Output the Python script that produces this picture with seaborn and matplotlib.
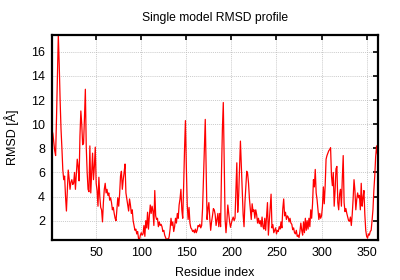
import numpy as np
import pandas as pd
import matplotlib
matplotlib.use("Agg")
import matplotlib.pyplot as plt
import seaborn as sns

title = "Single model RMSD profile"
xlabel = "Residue index"
ylabel = "RMSD [Å]"
xticks = [50, 100, 150, 200, 250, 300, 350]
yticks = [2, 4, 6, 8, 10, 12, 14, 16]

rmsd_001_060 = [9.5, 9.2, 8.5, 7.8, 7.4, 10.5, 14.0, 17.4, 15.0, 12.0,
                9.6, 8.0, 6.2, 5.4, 5.7, 4.0, 2.8, 4.5, 6.2, 5.5,
                4.6, 5.2, 5.4, 5.0, 5.1, 6.0, 4.6, 5.8, 7.1, 6.5,
                5.3, 9.0, 11.1, 10.0, 8.3, 8.4, 10.5, 12.9, 8.1, 6.0,
                4.6, 4.4, 8.2, 4.3, 6.0, 7.6, 5.4, 6.5, 8.1, 5.1,
                4.5, 3.2, 5.6, 4.0, 3.1, 2.9, 1.9, 3.5, 4.6, 5.1]
rmsd_061_120 = [4.3, 4.6, 4.1, 4.3, 3.7, 3.9, 3.5, 2.9, 3.1, 2.6,
                2.2, 2.0, 3.0, 3.9, 3.2, 4.2, 5.7, 6.1, 4.6, 5.4,
                6.0, 6.7, 4.3, 3.8, 3.3, 2.8, 3.8, 3.3, 2.6, 2.9,
                2.0, 1.6, 1.2, 1.3, 0.9, 1.1, 0.5, 0.4, 0.8, 1.0,
                0.8, 0.9, 1.6, 0.7, 2.0, 1.4, 2.7, 1.3, 2.4, 3.3,
                2.6, 3.2, 2.8, 1.6, 4.5, 2.4, 2.1, 2.2, 1.5, 1.9]
rmsd_121_180 = [1.6, 1.7, 1.5, 1.1, 1.2, 0.8, 0.6, 0.4, 0.5, 0.4,
                0.7, 1.3, 2.2, 1.6, 1.9, 1.1, 1.5, 2.2, 1.8, 2.6,
                2.2, 3.3, 3.8, 4.6, 2.9, 2.2, 4.8, 7.9, 10.3, 6.5,
                3.3, 2.1, 3.1, 1.8, 1.4, 1.3, 1.1, 1.2, 1.0, 1.3,
                1.0, 1.2, 1.6, 1.5, 1.7, 1.4, 1.6, 3.0, 5.4, 8.0,
                10.4, 6.2, 2.1, 3.0, 3.5, 2.2, 1.2, 1.9, 2.4, 3.0]
rmsd_181_240 = [2.9, 2.5, 1.6, 2.1, 2.6, 1.5, 2.6, 1.5, 6.0, 9.6,
                11.8, 6.9, 2.1, 1.0, 2.0, 3.3, 2.6, 1.9, 1.45, 1.8,
                2.1, 2.3, 2.0, 2.2, 4.5, 6.8, 2.7, 4.0, 6.2, 8.6,
                6.5, 4.6, 2.5, 1.5, 3.5, 4.8, 6.1, 5.9, 5.1, 3.8,
                2.9, 2.1, 3.4, 2.75, 2.9, 2.2, 2.9, 2.5, 1.8, 2.2,
                1.75, 2.0, 1.5, 2.3, 1.5, 1.3, 2.2, 1.2, 2.4, 3.5]
rmsd_241_300 = [0.8, 1.9, 3.0, 4.2, 1.4, 1.67, 1.0, 1.2, 1.4, 0.9,
                1.2, 1.1, 1.5, 1.3, 1.9, 1.4, 3.0, 3.8, 2.4, 2.7,
                2.1, 2.4, 2.3, 1.9, 2.2, 1.8, 1.7, 1.25, 1.4, 1.0,
                0.9, 1.2, 0.7, 0.8, 0.6, 1.1, 1.8, 1.2, 0.8, 1.9,
                1.0, 2.2, 1.2, 2.0, 1.3, 2.2, 1.5, 2.9, 2.2, 3.4,
                5.4, 4.8, 6.25, 4.3, 3.75, 2.9, 2.1, 2.6, 2.2, 2.4]
rmsd_301_362 = [3.2, 4.8, 3.4, 4.9, 7.1, 7.4, 7.6, 7.8, 7.9, 8.05,
                5.7, 4.9, 6.0, 3.2, 4.5, 6.3, 6.5, 3.5, 2.9, 4.2,
                4.6, 3.2, 5.5, 7.4, 3.5, 2.75, 3.0, 2.6, 2.3, 2.0,
                1.95, 2.3, 1.6, 2.5, 3.8, 5.4, 4.5, 2.9, 3.75, 4.3,
                3.9, 4.1, 2.9, 5.1, 3.2, 3.9, 4.5, 2.5, 1.2, 0.7,
                0.55, 0.9, 0.8, 1.1, 1.2, 2.0, 2.9, 4.5, 5.7, 7.3, 8.2, 7.5]

rmsd = (rmsd_001_060 + rmsd_061_120 + rmsd_121_180 +
        rmsd_181_240 + rmsd_241_300 + rmsd_301_362)
residue = list(range(1, len(rmsd) + 1))

df = pd.DataFrame({"residue": residue, "rmsd": rmsd})

sns.set_theme(style="white")
plt.rcParams['font.family'] = ['Liberation Sans', 'DejaVu Sans']

fig = plt.figure(figsize=(4.0, 2.8), dpi=100)
ax = fig.add_axes([0.13, 0.143, 0.815, 0.732])

sns.lineplot(data=df, x="residue", y="rmsd", ax=ax, color="#ff0000",
             linewidth=0.9, estimator=None, sort=False)

ax.set_xlim(1, max(residue) + 0.6)
ax.set_ylim(min(rmsd), max(rmsd))
ax.set_xticks(xticks)
ax.set_yticks(yticks)
ax.grid(True, color="#b8b8b8", linestyle=(0, (1.5, 1.5)), linewidth=0.5)
ax.set_axisbelow(True)

for s in ax.spines.values():
    s.set_color("black")
    s.set_linewidth(1.6)

ax.tick_params(direction="in", length=3.5, width=1.2, color="black",
               top=True, right=True, labelsize=9, pad=5, labelcolor="black")

ax.set_title(title, fontsize=8.7, pad=10, color="black")
ax.set_xlabel(xlabel, fontsize=9, labelpad=6, color="black")
ax.set_ylabel(ylabel, fontsize=9, labelpad=9, color="black")

fig.savefig("out.png", dpi=100, facecolor="white")
